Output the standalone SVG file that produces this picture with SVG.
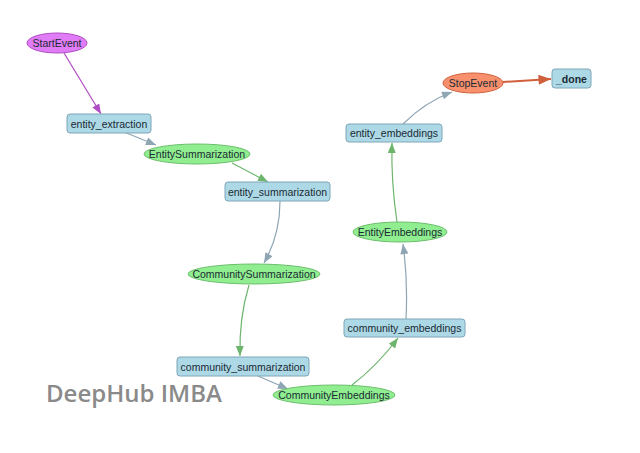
<svg xmlns="http://www.w3.org/2000/svg" width="640" height="453" viewBox="0 0 640 453">
<style>
.step rect{fill:#add8e6;stroke:#7fa6b8;stroke-width:1}
.evt ellipse{fill:#90ee90;stroke:#6cbf6c;stroke-width:1}
text{font-family:"Liberation Sans",Arial,sans-serif;font-size:10.5px;fill:#1a2a33;text-anchor:middle;dominant-baseline:central}
.e{fill:none;stroke-width:1.2}
.b{stroke:#8ea5b3}
.g{stroke:#6db56d}
.p{stroke:#b04cc4}
.o{stroke:#d0603c;stroke-width:2}
</style>
<defs>
<marker id="ab" viewBox="0 0 10 8" refX="10" refY="4" markerWidth="11" markerHeight="8" markerUnits="userSpaceOnUse" orient="auto"><path d="M0,0 L10,4 L0,8 Z" fill="#8ea5b3"/></marker>
<marker id="ag" viewBox="0 0 10 8" refX="10" refY="4" markerWidth="11" markerHeight="8" markerUnits="userSpaceOnUse" orient="auto"><path d="M0,0 L10,4 L0,8 Z" fill="#6db56d"/></marker>
<marker id="ap" viewBox="0 0 10 8" refX="10" refY="4" markerWidth="11" markerHeight="8" markerUnits="userSpaceOnUse" orient="auto"><path d="M0,0 L10,4 L0,8 Z" fill="#b04cc4"/></marker>
<marker id="ao" viewBox="0 0 10 8" refX="10" refY="4" markerWidth="13" markerHeight="10" markerUnits="userSpaceOnUse" orient="auto"><path d="M0,0 L10,4 L0,8 Z" fill="#d0603c"/></marker>
</defs>
<rect width="640" height="453" fill="#ffffff"/>
<text x="134" y="393" style="font-family:'Open Sans','Liberation Sans',sans-serif;font-size:23px;font-weight:600;fill:#8a8a8a" textLength="176" lengthAdjust="spacingAndGlyphs">DeepHub IMBA</text>
<g id="connectors">
<path class="e p" d="M64,53 L101,114" marker-end="url(#ap)"/>
<path class="e b" d="M124,132 L156,145" marker-end="url(#ab)"/>
<path class="e g" d="M232,163 L268,182" marker-end="url(#ag)"/>
<path class="e b" d="M280,201 Q280,235 264,263" marker-end="url(#ab)"/>
<path class="e g" d="M249,285 Q239,318 240,356" marker-end="url(#ag)"/>
<path class="e b" d="M258,376 L288,389" marker-end="url(#ab)"/>
<path class="e g" d="M352,385 Q377,366 398,338" marker-end="url(#ag)"/>
<path class="e b" d="M406,319 Q408,280 403,244" marker-end="url(#ab)"/>
<path class="e g" d="M397,222 Q391,182 392,143" marker-end="url(#ag)"/>
<path class="e b" d="M403,124 Q425,102 452,92" marker-end="url(#ab)"/>
<path class="e o" d="M503,82 L551,79" marker-end="url(#ao)"/>
</g>
<g id="StartEvent"><ellipse cx="57" cy="43" rx="30" ry="10" fill="#e07cf5" stroke="#b04cc4"/><text x="57" y="43">StartEvent</text></g>
<g id="entity_extraction" class="step"><rect x="67" y="114" width="84" height="19" rx="3"/><text x="109" y="123.5">entity_extraction</text></g>
<g id="EntitySummarization" class="evt"><ellipse cx="197" cy="154" rx="53" ry="10"/><text x="197" y="154">EntitySummarization</text></g>
<g id="entity_summarization" class="step"><rect x="225" y="182" width="105" height="19" rx="3"/><text x="277.5" y="191.5">entity_summarization</text></g>
<g id="CommunitySummarization" class="evt"><ellipse cx="254" cy="274" rx="66" ry="10"/><text x="254" y="274">CommunitySummarization</text></g>
<g id="community_summarization" class="step"><rect x="177" y="357" width="132" height="19" rx="3"/><text x="243" y="366.5">community_summarization</text></g>
<g id="CommunityEmbeddings" class="evt"><ellipse cx="334" cy="395" rx="61" ry="10"/><text x="334" y="395">CommunityEmbeddings</text></g>
<g id="community_embeddings" class="step"><rect x="344" y="319" width="121" height="18" rx="3"/><text x="404.5" y="328">community_embeddings</text></g>
<g id="EntityEmbeddings" class="evt"><ellipse cx="400" cy="232" rx="47" ry="10"/><text x="400" y="232">EntityEmbeddings</text></g>
<g id="entity_embeddings" class="step"><rect x="346" y="124" width="96" height="18" rx="3"/><text x="394" y="133">entity_embeddings</text></g>
<g id="StopEvent"><ellipse cx="473" cy="83" rx="30" ry="10" fill="#f8906e" stroke="#d0603c"/><text x="473" y="83">StopEvent</text></g>
<g id="_done" class="step"><rect x="552" y="69" width="39" height="19" rx="3"/><text x="571.5" y="78.5" style="font-weight:bold">_done</text></g>
</svg>
